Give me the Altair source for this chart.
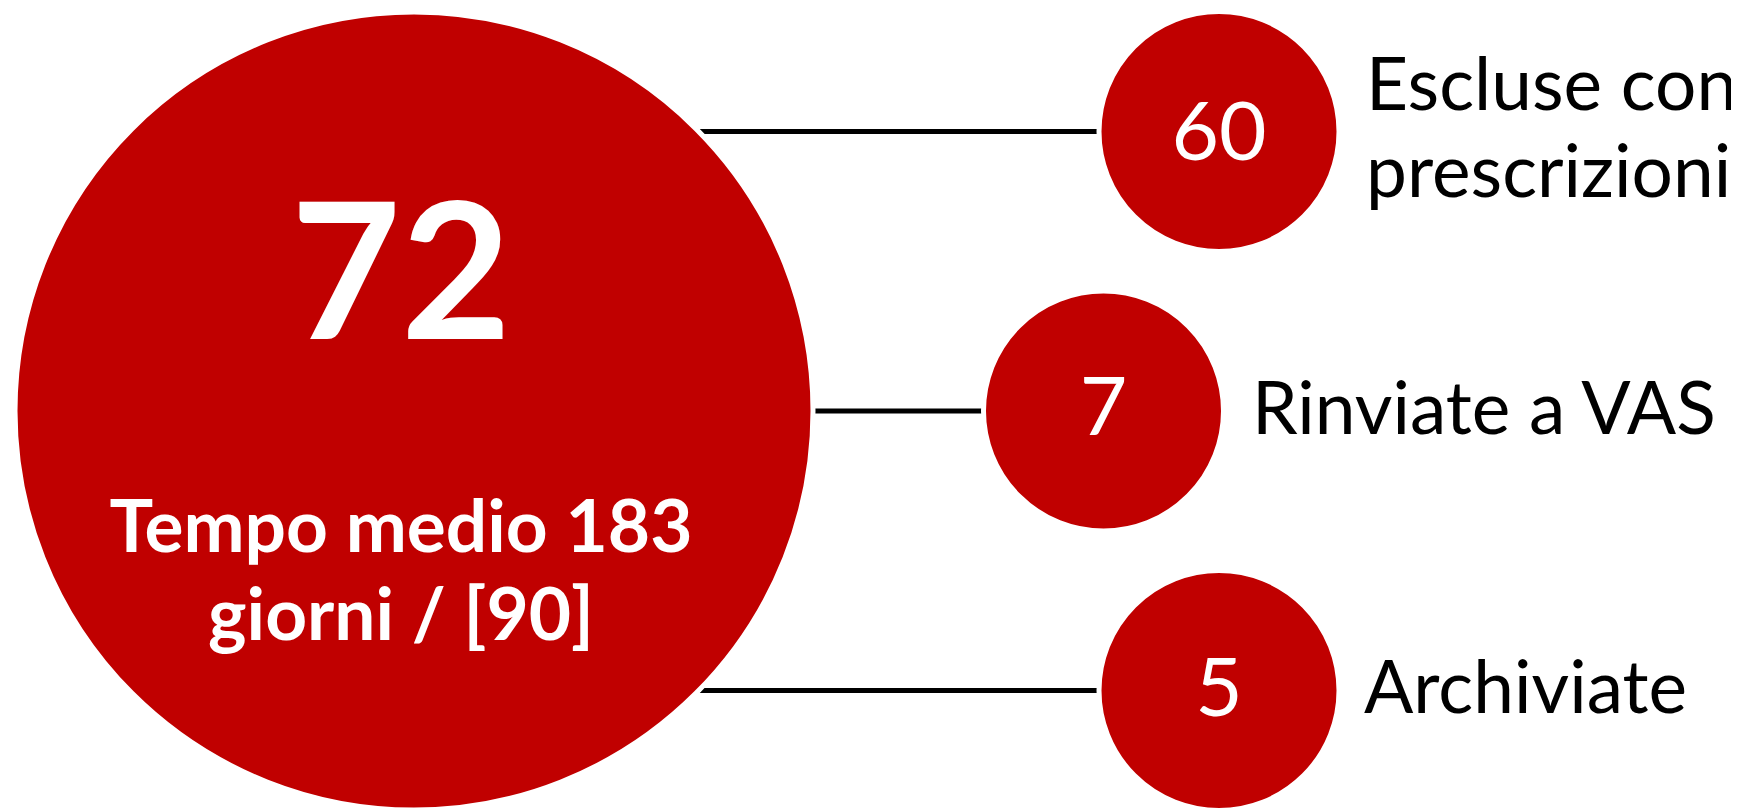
import altair as alt
import pandas as pd

# ---------------- data ----------------
total_value = 72
total_caption = ["Tempo medio 183", "giorni / [90]"]
outcome_values = [60, 7, 5]
outcome_labels = [["Escluse con", "prescrizioni"], ["Rinviate a VAS"], ["Archiviate"]]

# ---------------- layout (reference pixel coordinates) ----------------
PAGE_W, PAGE_H, MARGIN = 1739, 809, 8
W = PAGE_W - 2 * MARGIN
H = PAGE_H - MARGIN
HUB_X, HUB_Y, HUB_R = 414, 411, 399
NODE_R = 120
ROW_Y = [131.5, 411, 690.5]
NODE_X = [1219, 1103.5, 1219]
NUM_BASE = [160, 435, 716]
LABEL_X = [1366, 1252, 1364]
LABEL_BASE = [[110, 197], [434], [713]]
RED = "#C00000"
FONT = "Lato"

xs = alt.Scale(domain=[MARGIN, MARGIN + W], nice=False, zero=False)
ys = alt.Scale(domain=[MARGIN, MARGIN + H], nice=False, zero=False, reverse=True)
X = lambda f: alt.X(f, type="quantitative", scale=xs, axis=None)
Y = lambda f: alt.Y(f, type="quantitative", scale=ys, axis=None)

# connector lines (from hub centre to each node centre, hidden behind circles)
lines_df = pd.DataFrame({
    "x": [HUB_X] * 3,
    "x2": NODE_X,
    "y": ROW_Y,
})
lines = alt.Chart(lines_df).mark_rule(color="black", strokeWidth=5).encode(
    x=X("x"), x2="x2", y=Y("y")
)

# circles
circ_df = pd.DataFrame({
    "x": [HUB_X] + NODE_X,
    "y": [HUB_Y] + ROW_Y,
    "d": [(2 * HUB_R) ** 2] + [(2 * NODE_R) ** 2] * 3,
    "value": [total_value] + outcome_values,
})
circles = alt.Chart(circ_df).mark_point(
    shape="circle", filled=True, fill=RED, opacity=1, stroke="white", strokeWidth=5
).encode(
    x=X("x"), y=Y("y"),
    size=alt.Size("d:Q", scale=None, legend=None),
)

# hub number
hub_num = alt.Chart(pd.DataFrame({"t": [str(total_value)], "x": [401], "y": [339]})).mark_text(
    font=FONT, fontSize=190, fontWeight="bold", color="white", align="center", baseline="alphabetic"
).encode(x=X("x"), y=Y("y"), text="t:N")

# hub caption
cap_df = pd.DataFrame({"t": total_caption, "x": [401, 401], "y": [552, 640]})
hub_cap = alt.Chart(cap_df).mark_text(
    font=FONT, fontSize=73, fontWeight="bold", color="white", align="center", baseline="alphabetic"
).encode(x=X("x"), y=Y("y"), text="t:N")

# node numbers
num_df = pd.DataFrame({"t": [str(v) for v in outcome_values], "x": NODE_X, "y": NUM_BASE})
node_nums = alt.Chart(num_df).mark_text(
    font=FONT, fontSize=82, color="white", align="center", baseline="alphabetic"
).encode(x=X("x"), y=Y("y"), text="t:N")

# node labels
rows = []
for i, lines_txt in enumerate(outcome_labels):
    for j, txt in enumerate(lines_txt):
        rows.append({"t": txt, "x": LABEL_X[i], "y": LABEL_BASE[i][j]})
lab_df = pd.DataFrame(rows)
labels = alt.Chart(lab_df).mark_text(
    font=FONT, fontSize=73, color="black", align="left", baseline="alphabetic"
).encode(x=X("x"), y=Y("y"), text="t:N")

chart = alt.layer(lines, circles, hub_num, hub_cap, node_nums, labels).properties(
    width=W, height=H, autosize=alt.AutoSizeParams(type="none"), padding=0
).configure_view(strokeWidth=0)

chart.save("out.html", embed_options={"renderer": "svg", "actions": False})
